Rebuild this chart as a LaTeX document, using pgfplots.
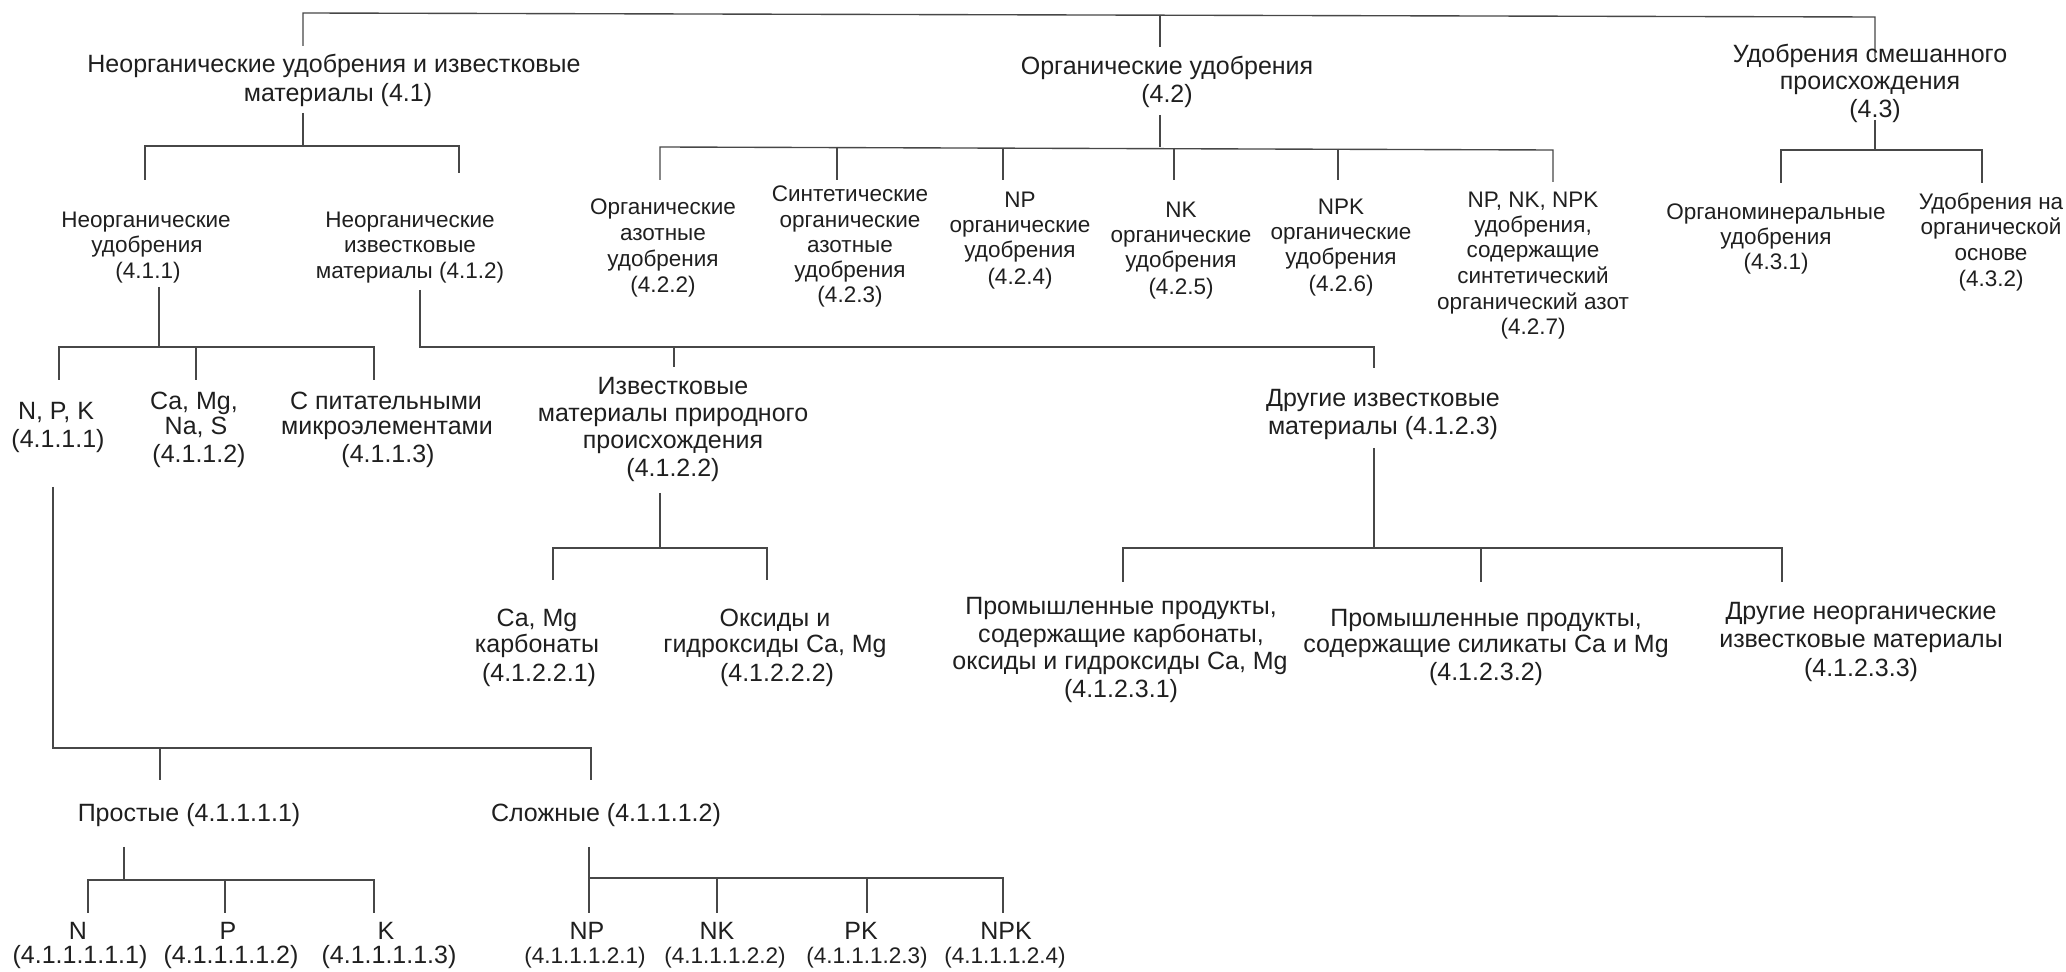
\documentclass[border=0pt]{standalone}
\usepackage{pgfplots}
\pgfplotsset{compat=1.18}
\usepackage{fontspec}
\setmainfont{Liberation Sans}
\begin{document}
\begin{tikzpicture}[
  t/.style={anchor=base,inner sep=0pt,font=\fontsize{10}{12}\selectfont,text=black!88},
  s/.style={anchor=base,inner sep=0pt,font=\fontsize{9}{11}\selectfont,text=black!88}]
\begin{axis}[scale only axis, width=826.4pt, height=388.8pt,
  xmin=0, xmax=2066, ymin=0, ymax=972, y dir=reverse,
  hide axis, clip=false,
  ln/.style={draw=black!72, solid, line width=0.55pt, mark=none}]
\addplot[draw=none, mark=none] coordinates {(0,0) (2066,972)};
% ---- top level
\addplot[ln] coordinates {(303,46) (303,13) (1875,17) (1875,58)};
\addplot[ln] coordinates {(1160,15) (1160,47)};
% ---- 4.1 children
\addplot[ln] coordinates {(303,113) (303,146)};
\addplot[ln] coordinates {(145,180) (145,146) (459,146) (459,173)};
% ---- 4.2 children
\addplot[ln] coordinates {(1160,115) (1160,147)};
\addplot[ln] coordinates {(660,180) (660,147) (1553,150) (1553,182)};
\addplot[ln] coordinates {(837,147) (837,180)};
\addplot[ln] coordinates {(1003,148) (1003,180)};
\addplot[ln] coordinates {(1174,148) (1174,180)};
\addplot[ln] coordinates {(1338,149) (1338,180)};
% ---- 4.3 children
\addplot[ln] coordinates {(1875,120) (1875,150)};
\addplot[ln] coordinates {(1781,183) (1781,150) (1982,150) (1982,183)};
% ---- 4.1.1 children
\addplot[ln] coordinates {(159,287) (159,347)};
\addplot[ln] coordinates {(59,380) (59,347) (374,347) (374,380)};
\addplot[ln] coordinates {(196,347) (196,380)};
% ---- 4.1.2 children
\addplot[ln] coordinates {(420,290) (420,347) (1374,347) (1374,368)};
\addplot[ln] coordinates {(674,347) (674,367)};
% ---- 4.1.2.2 children
\addplot[ln] coordinates {(660,493) (660,548)};
\addplot[ln] coordinates {(553,580) (553,548) (767,548) (767,580)};
% ---- 4.1.2.3 children
\addplot[ln] coordinates {(1374,448) (1374,548)};
\addplot[ln] coordinates {(1123,582) (1123,548) (1782,548) (1782,582)};
\addplot[ln] coordinates {(1481,548) (1481,582)};
% ---- 4.1.1.1 children
\addplot[ln] coordinates {(53,487) (53,748) (591,748) (591,780)};
\addplot[ln] coordinates {(160,748) (160,780)};
% ---- simple
\addplot[ln] coordinates {(124,847) (124,880)};
\addplot[ln] coordinates {(88,913) (88,880) (374,880) (374,913)};
\addplot[ln] coordinates {(225,880) (225,913)};
% ---- complex
\addplot[ln] coordinates {(589,847) (589,913)};
\addplot[ln] coordinates {(589,878) (1003,878) (1003,913)};
\addplot[ln] coordinates {(717,878) (717,913)};
\addplot[ln] coordinates {(867,878) (867,913)};

% ================= labels
\node[t] at (axis cs:334,73) {Неорганические удобрения и известковые};
\node[t] at (axis cs:338,102) {материалы (4.1)};
\node[t] at (axis cs:1167,75) {Органические удобрения};
\node[t] at (axis cs:1167,103) {(4.2)};
\node[t] at (axis cs:1870,63) {Удобрения смешанного};
\node[t] at (axis cs:1870,90) {происхождения};
\node[t] at (axis cs:1875,118) {(4.3)};

\node[s] at (axis cs:146,228) {Неорганические};
\node[s] at (axis cs:147,253) {удобрения};
\node[s] at (axis cs:148,279) {(4.1.1)};
\node[s] at (axis cs:410,228) {Неорганические};
\node[s] at (axis cs:410,253) {известковые};
\node[s] at (axis cs:410,279) {материалы (4.1.2)};

\node[s] at (axis cs:663,215) {Органические};
\node[s] at (axis cs:663,241) {азотные};
\node[s] at (axis cs:663,267) {удобрения};
\node[s] at (axis cs:663,293) {(4.2.2)};
\node[s] at (axis cs:850,202) {Синтетические};
\node[s] at (axis cs:850,228) {органические};
\node[s] at (axis cs:850,253) {азотные};
\node[s] at (axis cs:850,278) {удобрения};
\node[s] at (axis cs:850,303) {(4.2.3)};
\node[s] at (axis cs:1020,208) {NP};
\node[s] at (axis cs:1020,233) {органические};
\node[s] at (axis cs:1020,258) {удобрения};
\node[s] at (axis cs:1020,285) {(4.2.4)};
\node[s] at (axis cs:1181,218) {NK};
\node[s] at (axis cs:1181,243) {органические};
\node[s] at (axis cs:1181,268) {удобрения};
\node[s] at (axis cs:1181,295) {(4.2.5)};
\node[s] at (axis cs:1341,215) {NPK};
\node[s] at (axis cs:1341,240) {органические};
\node[s] at (axis cs:1341,265) {удобрения};
\node[s] at (axis cs:1341,292) {(4.2.6)};
\node[s] at (axis cs:1533,208) {NP, NK, NPK};
\node[s] at (axis cs:1533,233) {удобрения,};
\node[s] at (axis cs:1533,258) {содержащие};
\node[s] at (axis cs:1533,284) {синтетический};
\node[s] at (axis cs:1533,310) {органический азот};
\node[s] at (axis cs:1533,335) {(4.2.7)};
\node[s] at (axis cs:1776,220) {Органоминеральные};
\node[s] at (axis cs:1776,245) {удобрения};
\node[s] at (axis cs:1776,270) {(4.3.1)};
\node[s] at (axis cs:1991,210) {Удобрения на};
\node[s] at (axis cs:1991,235) {органической};
\node[s] at (axis cs:1991,261) {основе};
\node[s] at (axis cs:1991,287) {(4.3.2)};

\node[t] at (axis cs:56,420) {N, P, K};
\node[t] at (axis cs:58,448) {(4.1.1.1)};
\node[t] at (axis cs:194,410) {Ca, Mg,};
\node[t] at (axis cs:196,435) {Na, S};
\node[t] at (axis cs:199,463) {(4.1.1.2)};
\node[t] at (axis cs:386,410) {С питательными};
\node[t] at (axis cs:387,435) {микроэлементами};
\node[t] at (axis cs:388,463) {(4.1.1.3)};
\node[t] at (axis cs:673,395) {Известковые};
\node[t] at (axis cs:673,422) {материалы природного};
\node[t] at (axis cs:673,449) {происхождения};
\node[t] at (axis cs:673,477) {(4.1.2.2)};
\node[t] at (axis cs:1383,407) {Другие известковые};
\node[t] at (axis cs:1383,435) {материалы (4.1.2.3)};

\node[t] at (axis cs:537,627) {Ca, Mg};
\node[t] at (axis cs:537,653) {карбонаты};
\node[t] at (axis cs:539,682) {(4.1.2.2.1)};
\node[t] at (axis cs:775,627) {Оксиды и};
\node[t] at (axis cs:775,653) {гидроксиды Ca, Mg};
\node[t] at (axis cs:777,682) {(4.1.2.2.2)};
\node[t] at (axis cs:1121,615) {Промышленные продукты,};
\node[t] at (axis cs:1121,643) {содержащие карбонаты,};
\node[t] at (axis cs:1120,670) {оксиды и гидроксиды Ca, Mg};
\node[t] at (axis cs:1121,698) {(4.1.2.3.1)};
\node[t] at (axis cs:1486,627) {Промышленные продукты,};
\node[t] at (axis cs:1486,653) {содержащие силикаты Ca и Mg};
\node[t] at (axis cs:1486,681) {(4.1.2.3.2)};
\node[t] at (axis cs:1861,620) {Другие неорганические};
\node[t] at (axis cs:1861,648) {известковые материалы};
\node[t] at (axis cs:1861,677) {(4.1.2.3.3)};

\node[t] at (axis cs:189,822) {Простые (4.1.1.1.1)};
\node[t] at (axis cs:606,822) {Сложные (4.1.1.1.2)};

\node[t] at (axis cs:78,940) {N};
\node[t] at (axis cs:80,964) {(4.1.1.1.1.1)};
\node[t] at (axis cs:228,940) {P};
\node[t] at (axis cs:231,964) {(4.1.1.1.1.2)};
\node[t] at (axis cs:386,940) {K};
\node[t] at (axis cs:389,964) {(4.1.1.1.1.3)};
\node[t] at (axis cs:587,940) {NP};
\node[s] at (axis cs:585,964) {(4.1.1.1.2.1)};
\node[t] at (axis cs:717,940) {NK};
\node[s] at (axis cs:725,964) {(4.1.1.1.2.2)};
\node[t] at (axis cs:861,940) {PK};
\node[s] at (axis cs:867,964) {(4.1.1.1.2.3)};
\node[t] at (axis cs:1006,940) {NPK};
\node[s] at (axis cs:1005,964) {(4.1.1.1.2.4)};
\end{axis}
\end{tikzpicture}
\end{document}
